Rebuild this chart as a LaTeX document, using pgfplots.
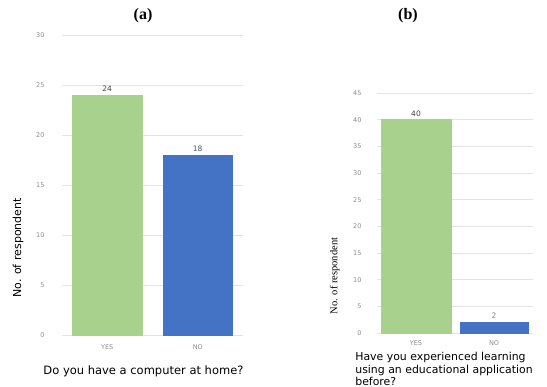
\documentclass[border=0pt]{standalone}
\usepackage{pgfplots}
\pgfplotsset{compat=1.18}
\usepackage{fontspec}
\setmainfont{DejaVu Sans}
\newfontfamily\seriffont{Liberation Serif}

\definecolor{barGreen}{HTML}{A9D18E}
\definecolor{barBlue}{HTML}{4472C4}
\definecolor{gridGray}{HTML}{E3E3E3}
\definecolor{tickGray}{HTML}{8C8C8C}
\definecolor{labelDark}{HTML}{404040}
\definecolor{labelBlue}{HTML}{44546A}

\pgfplotsset{
  panel/.style={
    scale only axis,
    axis line style={draw=none},
    ymajorgrids,
    grid style={gridGray, line width=0.8pt},
    xmin=-0.5, xmax=1.5, ymin=0,
    xtick={0,1}, xticklabels={YES,NO},
    major tick length=0pt,
    tick style={draw=none},
    tick label style={font=\fontsize{6.5}{7}\selectfont, text=tickGray},
    /pgf/number format/assume math mode=true,
    clip=false,
    nodes near coords style={font=\fontsize{7.5}{8}\selectfont},
  },
}

\begin{document}
\begin{tikzpicture}[x=1pt,y=1pt]
\useasboundingbox (0,0) rectangle (547,387);

% panel (a)
\node[font=\seriffont\bfseries\fontsize{16}{18}\selectfont] at (143,371) {(a)};
\begin{axis}[panel,
  at={(62pt,52pt)}, anchor=south west,
  width=181pt, height=300pt,
  ymax=30, ytick={0,5,...,30},
  yticklabel style={xshift=-14pt},
  xticklabel style={yshift=-6pt},
  ylabel={No. of respondent},
  ylabel style={at={(axis description cs:-0.243,0.29)}, anchor=center,
    font=\fontsize{11}{12}\selectfont, text=black},
  xlabel={Do you have a computer at home?},
  xlabel style={at={(axis description cs:0.45,0)}, anchor=center, yshift=-36pt,
    font=\fontsize{11.5}{13}\selectfont, text=black},
]
\addplot[ybar, bar width=70pt, bar shift=0pt, fill=barGreen, draw=barGreen,
  nodes near coords, nodes near coords style={text=labelDark}]
  coordinates {(0,24)};
\addplot[ybar, bar width=69pt, bar shift=0pt, fill=barBlue, draw=barBlue,
  nodes near coords, nodes near coords style={text=labelBlue}]
  coordinates {(1,18)};
\end{axis}

% panel (b)
\node[font=\seriffont\bfseries\fontsize{16}{18}\selectfont] at (408,371) {(b)};
\begin{axis}[panel,
  at={(377pt,54pt)}, anchor=south west,
  width=156pt, height=240pt,
  ymax=45, ytick={0,5,...,45},
  yticklabel style={xshift=-12pt},
  xticklabel style={yshift=-4pt},
  ylabel={No. of respondent},
  ylabel style={at={(axis description cs:-0.27,0.2375)}, anchor=center,
    font=\seriffont\fontsize{10.5}{12}\selectfont, text=black},
  xlabel={Have you experienced learning\\using an educational application\\before?},
  xlabel style={at={(axis description cs:-0.14,0)}, anchor=north west, yshift=-19pt,
    inner sep=0pt, align=left, font=\fontsize{10.9}{12.6}\selectfont, text=black},
]
\addplot[ybar, bar width=70pt, bar shift=0pt, fill=barGreen, draw=barGreen,
  nodes near coords, nodes near coords style={text=labelDark}]
  coordinates {(0,40)};
\addplot[ybar, bar width=68pt, bar shift=0pt, fill=barBlue, draw=barBlue,
  nodes near coords, nodes near coords style={text=tickGray}]
  coordinates {(1,2)};
\end{axis}
\end{tikzpicture}
\end{document}
